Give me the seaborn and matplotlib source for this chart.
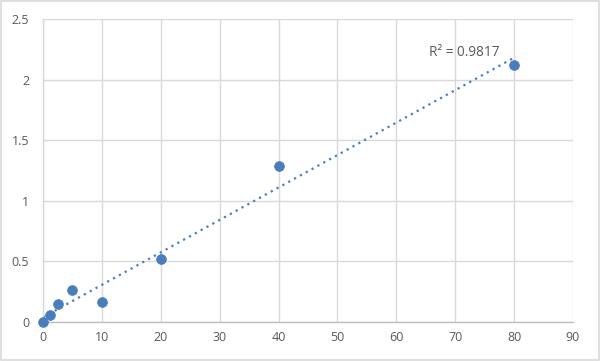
import numpy as np
import pandas as pd
import matplotlib
matplotlib.use("Agg")
import matplotlib.pyplot as plt
import seaborn as sns

conc = [0, 1.25, 2.5, 5, 10, 20, 40, 80]
od = [0.0, 0.055, 0.149, 0.262, 0.16, 0.518, 1.287, 2.116]
x_ticks = [0, 10, 20, 30, 40, 50, 60, 70, 80, 90]
y_ticks = [0, 0.5, 1, 1.5, 2, 2.5]
y_tick_labels = ["0", "0.5", "1", "1.5", "2", "2.5"]
r2_label = "R² = 0.9817"

sns.set_style("white")
plt.rcParams['font.family'] = ['Open Sans', 'DejaVu Sans']

df = pd.DataFrame({"conc": conc, "od": od})
blue = "#4A7EBB"
grey_txt = "#595959"

fig = plt.figure(figsize=(6.0, 3.61), dpi=100)
ax = fig.add_axes([43/600, 1 - 321.7/361, (573-43)/600, (321.7-19)/361])

# trendline
slope, intercept = np.polyfit(df["conc"], df["od"], 1)
xs = np.array([min(conc), max(conc)])
ax.plot(xs, slope * xs + intercept, linestyle=(0, (1, 2)), color=blue, linewidth=1.6, zorder=2)

sns.scatterplot(data=df, x="conc", y="od", ax=ax, color=blue, s=50, edgecolor=blue,
                linewidth=0.5, zorder=3, clip_on=False)

ax.set_xlim(0, 90)
ax.set_ylim(0, 2.5)
ax.set_xticks(x_ticks)
ax.set_yticks(y_ticks)
ax.set_yticklabels(y_tick_labels)
ax.set_xlabel("")
ax.set_ylabel("")
ax.grid(True, color="#D9D9D9", linewidth=1)
ax.set_axisbelow(True)
for side in ["top", "right"]:
    ax.spines[side].set_visible(False)
ax.spines["left"].set_color("#D9D9D9")
ax.spines["bottom"].set_color("#BFBFBF")
ax.spines["left"].set_linewidth(1)
ax.spines["bottom"].set_linewidth(1)
ax.tick_params(axis="both", length=0, labelsize=9, colors=grey_txt, pad=7)
ax.tick_params(axis="y", pad=10)

ax.text(65.5, 2.22, r2_label, fontsize=9.8, color=grey_txt, ha="left", va="center")

border = plt.Rectangle((0.002, 0.003), 0.996, 0.994, transform=fig.transFigure,
                       fill=False, edgecolor="#D9D9D9", linewidth=1.2)
fig.patches.append(border)

fig.savefig("out.png", dpi=100)
